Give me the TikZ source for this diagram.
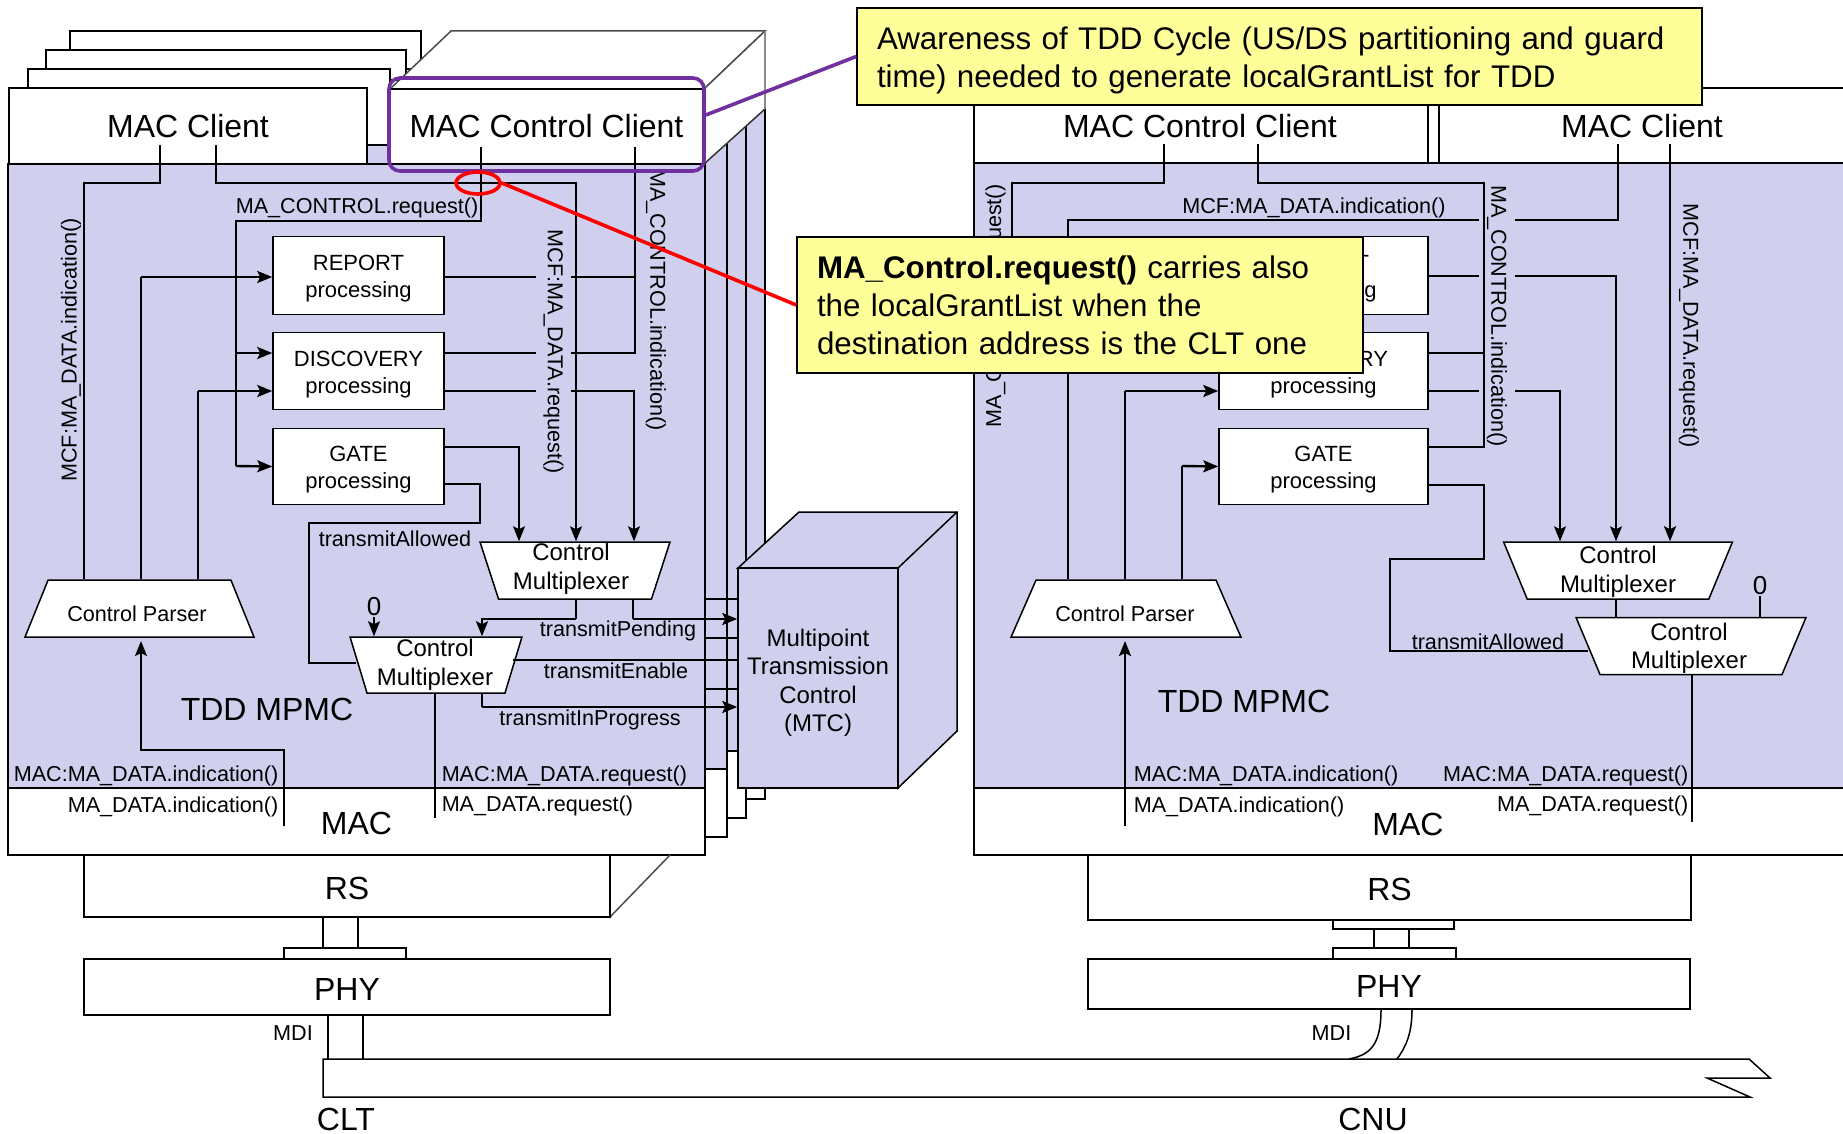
\documentclass[tikz,border=0pt]{standalone}
\usepackage{fontspec}
\setmainfont{Liberation Sans}
\usetikzlibrary{arrows.meta,shapes.geometric}

\definecolor{mpblue}{HTML}{D0D0EE}
\definecolor{noteyellow}{HTML}{FFFF99}
\definecolor{notepurple}{HTML}{7030A0}
\newcommand{\slotfill}{\phantom{\rule{10pt}{10pt}}}

\tikzset{
  bigtext/.style={font=\fontsize{32}{36}\selectfont},
  lowtext/.style={text height=27pt},
  sigtext/.style={font=\fontsize{21.6}{25}\selectfont,inner sep=0pt},
  muxtext/.style={font=\fontsize{24}{28.5}\selectfont,align=center,inner sep=0pt},
  prctext/.style={font=\fontsize{22}{27}\selectfont,align=center,inner sep=0pt,yshift=-3.5pt},
  layerbox/.style={draw,fill=white,bigtext,inner sep=0pt},
  prcbox/.style={draw,fill=white,minimum width=171,minimum height=78,inner sep=0pt},
  muxshape/.style={draw,fill=white,trapezium,shape border rotate=180,trapezium stretches=true,inner sep=0pt},
  parser/.style={draw,fill=white,trapezium,trapezium stretches=true,minimum height=57,inner sep=0pt},
  sigarrow/.style={-{Stealth[length=15pt,width=12pt,inset=3pt]}},
  heavy/.style={line width=2.4pt},
  notebox/.style={draw,fill=noteyellow,line width=1.6pt,inner sep=0pt},
  notetext/.style={font=\fontsize{31.3}{38}\selectfont,align=left,inner sep=0pt}
}

\begin{document}
\begin{tikzpicture}[x=1pt,y=-1pt,line width=1.5pt]
  \useasboundingbox (0,0) rectangle (1843,1134);

  \draw[fill=white] (70,31) rectangle (421,69);
  \draw[fill=white] (46,50) rectangle (406,80);
  \draw[fill=white] (28,69) rectangle (390,145);
  \draw[fill=mpblue] (367,145) rectangle (400,164);

  \fill[mpblue] (705,164) -- (765,109) -- (765,700) -- (738,751) -- (727,751) -- (727,769) -- (705,769) -- cycle;
  \fill[white] (705,769) rectangle (727,837);
  \fill[white] (727,751) rectangle (746,818);
  \fill[white] (746,740) rectangle (765,799);
  \foreach \xa/\ya/\xb/\yb in {765/109/746/799,746/126/727/818,727/144/705/837} {
    \draw (\xa,\ya) -- (\xa,\yb) -- (\xb,\yb);
  }
  \draw (705,769) -- (727,769);
  \draw (727,751) -- (740,751);
  \draw[fill=white,draw=black!70] (390,89) -- (451,31) -- (765,31) -- (704,89) -- cycle;
  \fill[white] (704,89) -- (765,31) -- (765,109) -- (704,164) -- cycle;
  \draw[black!70] (704,89) -- (765,31);
  \draw[black!45] (765,31) -- (765,109);
  \draw[black!80] (704,164) -- (765,109);

  \node[draw,fill=mpblue,minimum width=697,minimum height=624,inner sep=0pt] (lmpmc) at (356.5,476) {};
  \node[layerbox,minimum width=358,minimum height=76] (lcli) at (188,126) {MAC Client};
  \node[layerbox,minimum width=315,minimum height=75] (lmcc) at (546.5,126.5) {MAC Control Client};
  \node[layerbox,lowtext,minimum width=697,minimum height=67] (lmac) at (356.5,821.5) {MAC};
  \draw[black!70] (610,917) -- (670,855);
  \node[layerbox,lowtext,minimum width=526,minimum height=62] (lrs) at (347,886) {RS};
  \draw[fill=white] (284,948) rectangle (406,959);
  \node[layerbox,lowtext,minimum width=526,minimum height=56] (lphy) at (347,987) {PHY};

  \fill[mpblue] (974,163) rectangle (1850,788);
  \draw[fill=white] (1850,88) -- (974,88) -- (974,163) -- (1850,163);
  \draw (1428,88) -- (1428,163);
  \draw (1439,88) -- (1439,163);
  \draw (974,163) -- (974,855);
  \draw[fill=white] (1850,788) -- (974,788) -- (974,855) -- (1850,855);
  \node[bigtext,inner sep=0pt] (rmcc) at (1200,126) {MAC Control Client};
  \node[bigtext,inner sep=0pt] (rcli) at (1642,126) {MAC Client};
  \node[bigtext,inner sep=0pt] (rmac) at (1408,824) {MAC};
  \node[layerbox,lowtext,minimum width=603,minimum height=65] (rrs) at (1389.5,887.5) {RS};
  \draw[fill=white] (1333,920) rectangle (1454,929);
  \draw[fill=white] (1333,948) rectangle (1456,959);
  \node[layerbox,lowtext,minimum width=602,minimum height=50] (rphy) at (1389,984) {PHY};

  \draw[fill=mpblue] (738,568) -- (799,512) -- (957,512) -- (957,731) -- (898,788) -- (898,568) -- cycle;
  \draw (898,568) -- (957,512);
  \node[draw,fill=mpblue,minimum width=160,minimum height=220,inner sep=0pt] (lmtc) at (818,678) {};
  \node[muxtext,yshift=-5pt] (lmtctext) at (lmtc) {Multipoint\\Transmission\\Control\\(MTC)};

  \node[prcbox] (lrep) at (358.5,275.5) {};
  \node[prcbox,minimum height=77] (ldis) at (358.5,371) {};
  \node[prcbox,minimum height=76] (lgat) at (358.5,466.5) {};
  \node[prctext] (lreptext) at (lrep) {REPORT\\processing};
  \node[prctext] (ldistext) at (ldis) {DISCOVERY\\processing};
  \node[prctext] (lgattext) at (lgat) {GATE\\processing};
  \node[prcbox,minimum width=209] (rrep) at (1323.5,275.5) {};
  \node[prcbox,minimum width=209,minimum height=77] (rdis) at (1323.5,371) {};
  \node[prcbox,minimum width=209,minimum height=76] (rgat) at (1323.5,466.5) {};
  \node[prctext] (rreptext) at (rrep) {REPORT\\processing};
  \node[prctext] (rdistext) at (rdis) {DISCOVERY\\processing};
  \node[prctext] (rgattext) at (rgat) {GATE\\processing};

  \node[parser,trapezium angle=82.8,minimum width=229] (lpar) at (139.5,608.5) {\slotfill};
  \node[parser,trapezium angle=82.1,minimum width=230] (rpar) at (1126,608.5) {\slotfill};
  \node[sigtext] (lpartext) at (137,614) {Control Parser};
  \node[sigtext] (rpartext) at (1125,614) {Control Parser};
  \node[muxshape,trapezium angle=83.1,minimum width=190,minimum height=57] (lmuxa) at (575,570.5) {\slotfill};
  \node[muxshape,trapezium angle=83,minimum width=172,minimum height=56] (lmuxb) at (436,665) {\slotfill};
  \node[muxshape,trapezium angle=82.6,minimum width=229,minimum height=57] (rmuxa) at (1618,570.5) {\slotfill};
  \node[muxshape,trapezium angle=82.5,minimum width=230,minimum height=57] (rmuxb) at (1691,646) {\slotfill};
  \node[muxtext] (lmuxatext) at (571,569) {Control\\Multiplexer};
  \node[muxtext] (lmuxbtext) at (435,665) {Control\\Multiplexer};
  \node[muxtext] (rmuxatext) at (1618,572) {Control\\Multiplexer};
  \node[muxtext] (rmuxbtext) at (1689,648.5) {Control\\Multiplexer};
  \node[font=\fontsize{26}{30}\selectfont,inner sep=0pt] (lzero) at (374,607) {0};
  \node[font=\fontsize{26}{30}\selectfont,inner sep=0pt] (rzero) at (1760,586) {0};

  \coordinate (lclia) at (160,145);
  \coordinate (lclib) at (216,145);
  \coordinate (lmcca) at (481,147);
  \coordinate (lmccb) at (635,147);
  \coordinate (lparin) at (141,641);
  \coordinate (lmacin) at (284,826);
  \coordinate (lmacout) at (435,818);
  \coordinate (rcca) at (1164,144);
  \coordinate (rccb) at (1258,144);
  \coordinate (rclia) at (1618,144);
  \coordinate (rclib) at (1670,144);
  \coordinate (rparin) at (1125,641);
  \coordinate (rmacin) at (1125,826);
  \coordinate (rmacout) at (1692,822);
  \coordinate (bustop) at (0,1059);

  \draw (lclia) -- (160,183) -- (84,183) -- (lpar.north -| 84,0);
  \draw[sigarrow] (lclib) -- (216,183) -- (576,183) -- (lmuxa.north -| 576,0);
  \draw (lmcca) -- (481,221) -- (236,221) -- (236,466);
  \draw[sigarrow,heavy] (236,466) -- (lgat.west);
  \draw[sigarrow,heavy] (236,353) -- (ldis.west |- 0,353);
  \draw (lpar.north -| 141,0) -- (141,277);
  \draw[sigarrow,heavy] (141,277) -- (lrep.west |- 0,277);
  \draw (lpar.north -| 198,0) -- (198,391);
  \draw[sigarrow,heavy] (198,391) -- (ldis.west |- 0,391);
  \draw (lrep.east |- 0,277) -- (635,277);
  \draw (ldis.east |- 0,353) -- (635,353) -- (lmccb);
  \draw[sigarrow] (ldis.east |- 0,391) -- (634,391) -- (lmuxa.north -| 634,0);
  \draw[sigarrow] (lgat.east |- 0,447) -- (519,447) -- (lmuxa.north -| 519,0);
  \draw (lgat.east |- 0,484) -- (480,484) -- (480,523) -- (309,523) -- (309,663) -- (356,663);
  \draw[sigarrow] (lzero.south) -- (lmuxb.north -| 374,0);
  \draw (lmuxa.south -| 576,0) -- (576,619);
  \draw[sigarrow,heavy] (576,619) -- (482,619) -- (lmuxb.north -| 482,0);
  \draw (lmuxa.south -| 633,0) -- (633,619);
  \draw[sigarrow,heavy] (633,619) -- (lmtc.west |- 0,619);
  \draw (513,660) -- (lmtc.west |- 0,660);
  \draw (lmuxb.south -| 482,0) -- (482,707);
  \draw[sigarrow,heavy] (482,707) -- (lmtc.west |- 0,707);
  \draw (lmuxb.south -| 435,0) -- (lmacout);
  \draw[sigarrow] (lmacin) -- (284,750) -- (141,750) -- (lparin);
  \foreach \ysig in {599,638,689} {
    \draw (lmpmc.east |- 0,\ysig) -- (lmtc.west |- 0,\ysig);
  }
  \draw (lrs.south -| 323,0) -- (323,948);
  \draw (lrs.south -| 358,0) -- (358,948);
  \draw[fill=white] (bustop -| 323,0) -- (1749,1059) -- (1770,1078) -- (1707,1078) -- (1750,1097) -- (323,1097) -- cycle;
  \draw (lphy.south -| 328,0) -- (bustop -| 328,0);
  \draw (lphy.south -| 363,0) -- (bustop -| 363,0);

  \draw (rcca) -- (1164,183) -- (1012,183) -- (1012,240);
  \draw (rclia) -- (1618,220) -- (1068,220) -- (rpar.north -| 1068,0);
  \draw[sigarrow] (rrep.east |- 0,276) -- (1616,276) -- (rmuxa.north -| 1616,0);
  \draw[sigarrow] (rdis.east |- 0,391) -- (1560,391) -- (rmuxa.north -| 1560,0);
  \draw[sigarrow,heavy] (rclib) -- (rmuxa.north -| 1670,0);
  \draw (rpar.north -| 1125,0) -- (1125,391);
  \draw[sigarrow,heavy] (1125,391) -- (rdis.west |- 0,391);
  \draw (rpar.north -| 1182,0) -- (1182,466);
  \draw[sigarrow,heavy] (1182,466) -- (rgat.west);
  \draw (rmuxa.south -| 1616,0) -- (rmuxb.north -| 1616,0);
  \draw (rzero.south) -- (rmuxb.north -| 1760,0);
  \draw (rgat.east |- 0,485) -- (1484,485) -- (1484,559) -- (1390,559) -- (1390,651) -- (1588,651);
  \draw (rmuxb.south -| 1692,0) -- (rmacout);
  \draw[sigarrow,heavy] (rmacin) -- (rparin);
  \draw (1374,929) -- (1374,948);
  \draw (1409,929) -- (1409,948);
  \draw (rphy.south -| 1381,0) .. controls (1381,1045) and (1370,1055) .. (bustop -| 1349,0);
  \draw (rphy.south -| 1412,0) .. controls (1412,1035) and (1405,1048) .. (bustop -| 1397,0);

  \node[sigtext,fill=mpblue,rotate=-90,minimum height=35] (lreqlabel) at (553.5,351.5) {MCF:MA\_DATA.request()};
  \node[sigtext,fill=mpblue,rotate=-90,minimum height=36] (rindlabel) at (1497,316) {MA\_CONTROL.indication()};
  \draw (rccb) -- (1258,183) -- (1484,183) -- (1484,447) -- (rgat.east |- 0,447);
  \draw (rdis.east |- 0,353) -- (1484,353);

  \node[sigtext] (lctlreq) at (357,207.5) {MA\_CONTROL.request()};
  \node[sigtext,rotate=90] (lmcfind) at (71,350) {MCF:MA\_DATA.indication()};
  \node[sigtext,rotate=-90] (lctlind) at (656,300) {MA\_CONTROL.indication()};
  \node[sigtext] (ltxa) at (395,539) {transmitAllowed};
  \node[sigtext] (ltxp) at (618,631) {transmitPending};
  \node[sigtext] (ltxe) at (616,671) {transmitEnable};
  \node[sigtext] (ltxi) at (590,720) {transmitInProgress};
  \node[sigtext,anchor=east] (lmacind) at (279,776) {MAC:MA\_DATA.indication()};
  \node[sigtext,anchor=east] (ldatind) at (279,807) {MA\_DATA.indication()};
  \node[sigtext,anchor=west] (lmacreq) at (441,776) {MAC:MA\_DATA.request()};
  \node[sigtext,anchor=west] (ldatreq) at (441,806) {MA\_DATA.request()};
  \node[bigtext,inner sep=0pt] (lmpmclabel) at (267,709) {TDD MPMC};
  \node[sigtext] (lmdi) at (293,1033) {MDI};
  \node[bigtext,inner sep=0pt] (cltlabel) at (346,1119) {CLT};

  \node[sigtext] (rmcfind) at (1314,207.5) {MCF:MA\_DATA.indication()};
  \node[sigtext,rotate=90] (rctlreq) at (995.5,306) {MA\_CONTROL.request()};
  \node[sigtext,rotate=-90] (rmcfreq) at (1689,326) {MCF:MA\_DATA.request()};
  \node[sigtext] (rtxa) at (1488,642) {transmitAllowed};
  \node[sigtext,anchor=west] (rmacind) at (1133,776) {MAC:MA\_DATA.indication()};
  \node[sigtext,anchor=west] (rdatind) at (1133,807) {MA\_DATA.indication()};
  \node[sigtext,anchor=east] (rmacreq) at (1689,776) {MAC:MA\_DATA.request()};
  \node[sigtext,anchor=east] (rdatreq) at (1689,806) {MA\_DATA.request()};
  \node[bigtext,inner sep=0pt] (rmpmclabel) at (1244,701) {TDD MPMC};
  \node[sigtext] (rmdi) at (1331.5,1033) {MDI};
  \node[bigtext,inner sep=0pt] (cnulabel) at (1373,1119) {CNU};

  \node[notebox,minimum width=845,minimum height=97] (tcall) at (1279.5,56.5) {};
  \node[notetext,text width=805,yshift=-3.5pt] (tcalltext) at (tcall) {Awareness of TDD Cycle (US/DS partitioning and guard\\time) needed to generate localGrantList for TDD};
  \node[notebox,minimum width=566,minimum height=136] (bcall) at (1080,305) {};
  \node[notetext,text width=526] (bcalltext) at (bcall) {\textbf{MA\_Control.request()} carries also\\the localGrantList when the\\destination address is the CLT one};
  \node[draw=notepurple,line width=3.6pt,rounded corners=11pt,minimum width=315,minimum height=93,inner sep=0pt] (lpurple) at (546.5,124.5) {};
  \draw[notepurple,line width=3.6pt] (lpurple.east |- 0,115) -- (tcall.west);
  \node[ellipse,draw=red,line width=3.6pt,minimum width=44,minimum height=22,inner sep=0pt] (lredring) at (478,183) {};
  \draw[red,line width=3.6pt] (lredring.east) -- (bcall.west);
\end{tikzpicture}
\end{document}
